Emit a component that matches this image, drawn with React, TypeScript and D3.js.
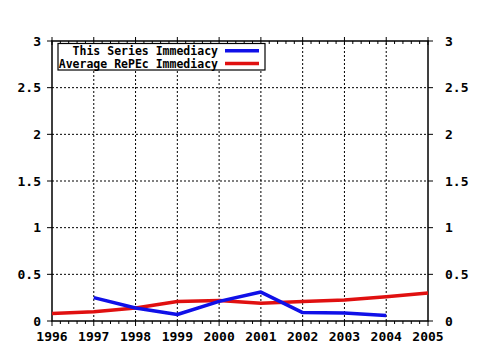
import React from 'react';
import * as d3 from 'd3';

const years = [1996, 1997, 1998, 1999, 2000, 2001, 2002, 2003, 2004, 2005];
const seriesYears = [1997, 1998, 1999, 2000, 2001, 2002, 2003, 2004];
const seriesValues = [0.25, 0.14, 0.07, 0.21, 0.31, 0.09, 0.085, 0.06];
const averageValues = [0.08, 0.1, 0.14, 0.21, 0.22, 0.19, 0.21, 0.225, 0.26, 0.3];
const yTicks = [0, 0.5, 1, 1.5, 2, 2.5, 3];
const legendLabels = ['This Series Immediacy', 'Average RePEc Immediacy'];

const W = 480, H = 350;
const FONT = '"DejaVu Sans Mono", monospace';

export default function App() {
  const x = d3.scaleLinear().domain([1996, 2005]).range([52, 428]);
  const y = d3.scaleLinear().domain([0, 3]).range([321, 41]);
  const [x0, x1] = x.range();
  const [y0, y1] = y.range();

  const line = d3.line<[number, number]>().x(d => x(d[0])).y(d => y(d[1]));
  const blue = line(seriesYears.map((yr, i) => [yr, seriesValues[i]]));
  const red = line(years.map((yr, i) => [yr, averageValues[i]]));

  // minor ticks: 5 subdivisions per year
  const minor: number[] = [];
  for (let i = 0; i < years.length - 1; i++)
    for (let k = 1; k < 5; k++) minor.push(years[i] + k / 5);

  const colors = ['#1010e8', '#e01010'];

  return (
    <svg width={W} height={H} style={{ position: 'absolute', left: 0, top: 0, background: '#fff' }}>
      {/* grid */}
      {yTicks.slice(1, -1).map(t => (
        <line key={'gy' + t} x1={x0} x2={x1} y1={y(t)} y2={y(t)} stroke="#000" strokeDasharray="2,2" />
      ))}
      {years.slice(1, -1).map(t => (
        <line key={'gx' + t} x1={x(t)} x2={x(t)} y1={y0} y2={y1} stroke="#000" strokeDasharray="2,2" />
      ))}

      {/* frame */}
      <rect x={x0} y={y1} width={x1 - x0} height={y0 - y1} fill="none" stroke="#000" strokeWidth={1.5} />

      {/* minor x ticks */}
      {minor.map(t => (
        <g key={'mt' + t}>
          <line x1={x(t)} x2={x(t)} y1={y0} y2={y0 + 3} stroke="#000" />
          <line x1={x(t)} x2={x(t)} y1={y1} y2={y1 + 3} stroke="#000" />
        </g>
      ))}
      {/* major x ticks */}
      {years.map(t => (
        <g key={'xt' + t}>
          <line x1={x(t)} x2={x(t)} y1={y0} y2={y0 + 5} stroke="#000" />
          <line x1={x(t)} x2={x(t)} y1={y1 - 4} y2={y1 + 4} stroke="#000" />
          <text x={x(t)} y={341} textAnchor="middle" fontFamily={FONT} fontWeight="bold" fontSize={13}>{t}</text>
        </g>
      ))}
      {/* y ticks */}
      {yTicks.map(t => (
        <g key={'yt' + t}>
          <line x1={x0 - 5} x2={x0} y1={y(t)} y2={y(t)} stroke="#000" />
          <line x1={x1} x2={x1 + 5} y1={y(t)} y2={y(t)} stroke="#000" />
          <text x={41} y={y(t) + 4.5} textAnchor="end" fontFamily={FONT} fontWeight="bold" fontSize={13}>{t}</text>
          <text x={445} y={y(t) + 4.5} textAnchor="start" fontFamily={FONT} fontWeight="bold" fontSize={13}>{t}</text>
        </g>
      ))}

      {/* series */}
      <path d={red ?? ''} fill="none" stroke={colors[1]} strokeWidth={3.5} strokeLinejoin="round" />
      <path d={blue ?? ''} fill="none" stroke={colors[0]} strokeWidth={3.5} strokeLinejoin="round" />

      {/* legend */}
      <rect x={58} y={43.5} width={207} height={26.5} fill="#fff" stroke="#000" strokeWidth={1.2} />
      {legendLabels.map((l, i) => (
        <g key={l}>
          <text x={218} y={55 + i * 12.7} textAnchor="end" fontFamily={FONT} fontWeight="bold" fontSize={11.5}>{l}</text>
          <line x1={225} x2={259} y1={50.8 + i * 12.6} y2={50.8 + i * 12.6} stroke={colors[i]} strokeWidth={3.5} />
        </g>
      ))}
    </svg>
  );
}
